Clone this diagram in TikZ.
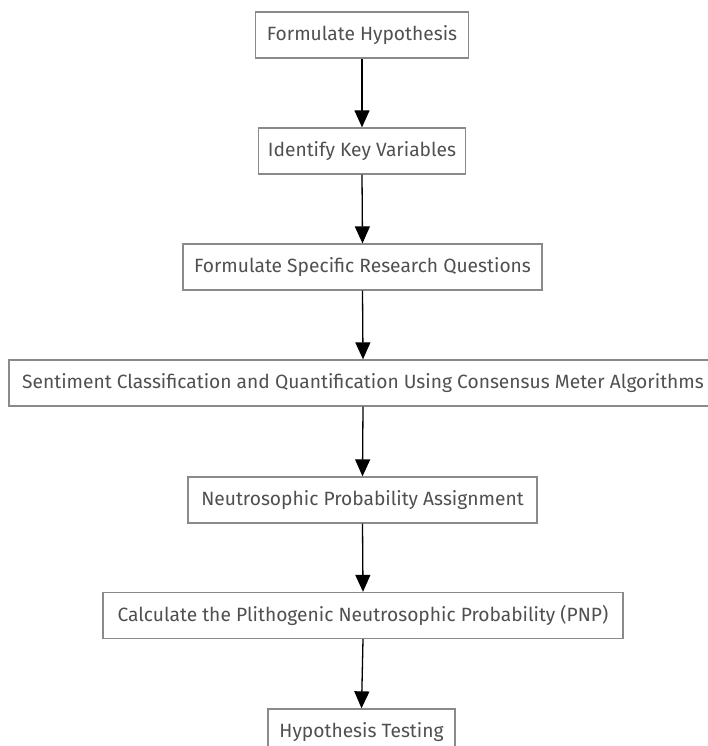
\documentclass[tikz,border=0pt]{standalone}
\usepackage{fontspec}
\setmainfont{Fira Sans}
\usetikzlibrary{arrows.meta}
\definecolor{boxline}{HTML}{8A8A8A}
\definecolor{txt}{HTML}{505050}
\tikzset{
  flowbox/.style={draw=boxline, line width=1.3pt, fill=white, text=txt,
    minimum height=46pt, inner sep=0pt, font=\fontsize{19.2}{22}\selectfont},
  flowarrow/.style={draw=black, line width=1.3pt, -{Triangle[width=15pt,length=17pt]}}
}
\begin{document}
\begin{tikzpicture}[x=1pt,y=-1pt]
\useasboundingbox (0,0) rectangle (707,746);
\node[flowbox, minimum width=213pt] (n1) at (362,35) {Formulate Hypothesis};
\node[flowbox, minimum width=207pt] (n2) at (362,151) {Identify Key Variables};
\node[flowbox, minimum width=359pt] (n3) at (362.5,267) {Formulate Specific Research Questions};
\node[flowbox, minimum width=708pt] (n4) at (363,383) {Sentiment Classification and Quantification Using Consensus Meter Algorithms};
\node[flowbox, minimum width=349pt] (n5) at (362.5,500) {Neutrosophic Probability Assignment};
\node[flowbox, minimum width=520pt] (n6) at (363,615.5) {Calculate the Plithogenic Neutrosophic Probability (PNP)};
\node[flowbox, minimum width=187pt] (n7) at (361.5,732) {Hypothesis Testing};
\draw[flowarrow] (n1.south) -- (n2.north);
\draw[flowarrow] (n2.south) -- (n3.north);
\draw[flowarrow] (n3.south) -- (n4.north);
\draw[flowarrow] (n4.south) -- (n5.north);
\draw[flowarrow] (n5.south) -- (n6.north);
\draw[flowarrow] (n6.south) -- (n7.north);
\end{tikzpicture}
\end{document}
